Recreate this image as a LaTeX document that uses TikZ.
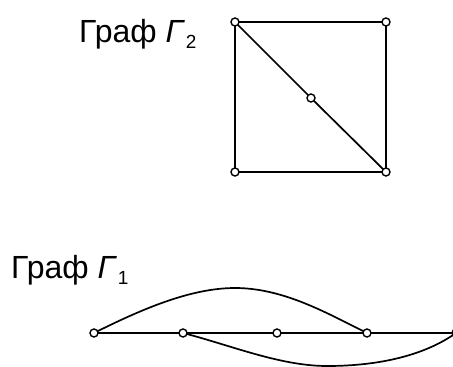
\documentclass[tikz,border=0pt]{standalone}
\usepackage{fontspec}
\setmainfont{Liberation Sans}
\begin{document}
\begin{tikzpicture}[x=1pt,y=-1pt,
  vert/.style={circle,draw,fill=white,line width=1.4pt,inner sep=0pt,minimum size=8pt},
  edge/.style={line width=1.7pt},
  lbl/.style={anchor=base west,inner sep=0pt,font=\fontsize{32}{34}\selectfont}]
\useasboundingbox (0,0) rectangle (453,367);
% labels
\node[lbl] (t2) at (79,42) {Граф \textit{Γ}\kern1pt\raisebox{-6pt}{\fontsize{19}{20}\selectfont 2}};
\node[lbl] (t1) at (11,278) {Граф \textit{Γ}\kern1pt\raisebox{-6pt}{\fontsize{19}{20}\selectfont 1}};
% graph 2
\coordinate (a) at (235,22);
\coordinate (b) at (386,22);
\coordinate (c) at (235,172);
\coordinate (d) at (386,172);
\coordinate (m) at (311,98);
\draw[edge] (a) -- (b) -- (d) -- (c) -- (a);
\draw[edge] (a) -- (m) -- (d);
\foreach \p in {a,b,c,d,m} \node[vert] at (\p) {};
% graph 1
\coordinate (p1) at (94,333);
\coordinate (p2) at (183,333);
\coordinate (p3) at (277,333);
\coordinate (p4) at (367,333);
\coordinate (p5) at (456,333);
\coordinate (top) at (235,288);
\coordinate (bot) at (327,366);
\draw[edge] (p1) -- (p5);
\draw[edge] (p1) .. controls (140,310) and (190,288) .. (top)
  .. controls (285,288) and (330,315) .. (p4);
\draw[edge] (p2) .. controls (230,345) and (280,366) .. (bot)
  .. controls (380,366) and (425,355) .. (p5);
\foreach \p in {p1,p2,p3,p4,p5} \node[vert] at (\p) {};
\end{tikzpicture}
\end{document}
